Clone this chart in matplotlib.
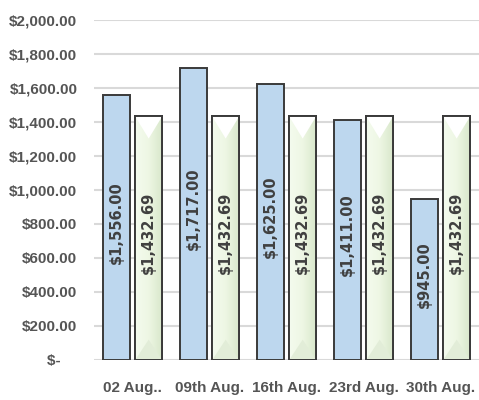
import matplotlib
matplotlib.use("Agg")
import matplotlib.pyplot as plt
import numpy as np
from matplotlib.ticker import FuncFormatter

categories = ["02 Aug..", "09th Aug.", "16th Aug.", "23rd Aug.", "30th Aug."]
actual = [1556.00, 1717.00, 1625.00, 1411.00, 945.00]
budget = [1432.69, 1432.69, 1432.69, 1432.69, 1432.69]

TEXT = "#555555"
BLUE = "#bdd7ee"
GREEN = "#eef7e4"
EDGE = "#3a3a3a"


def money(v, _pos=None):
    if v == 0:
        return "$-    "
    return f"${v:,.2f}"


fig = plt.figure(figsize=(4.79, 4.00), dpi=100)
ax = fig.add_axes([94 / 479, 40 / 400, 385 / 479, 340 / 400])

x = np.arange(len(categories))
w = 0.35
off = 0.21
b1 = ax.bar(x - off, actual, w, color=BLUE, edgecolor=EDGE, linewidth=1.4, zorder=3)
b2 = ax.bar(x + off, budget, w, color=GREEN, edgecolor=EDGE, linewidth=1.4, zorder=3)

# bevel-like shading on the budget bars
gcmap = matplotlib.colors.LinearSegmentedColormap.from_list(
    "g", ["#f4fbee", "#eef7e4", "#d9e8cc"])
grad = np.linspace(0, 1, 64)[None, :]
for r in b2:
    x0, y0, bw, bh = r.get_x(), r.get_y(), r.get_width(), r.get_height()
    im = ax.imshow(grad, extent=(x0, x0 + bw, y0, y0 + bh), aspect="auto",
                   cmap=gcmap, zorder=3.1)
    im.set_clip_path(r)
    top = plt.Polygon([(x0, y0 + bh), (x0 + bw, y0 + bh), (x0 + bw / 2, y0 + bh - 130)],
                      closed=True, facecolor="white", edgecolor="none", zorder=3.2)
    bot = plt.Polygon([(x0, y0), (x0 + bw, y0), (x0 + bw / 2, y0 + 120)],
                      closed=True, facecolor="#e2edd8", edgecolor="none", zorder=3.2)
    for p in (top, bot):
        p.set_clip_path(r)
        ax.add_patch(p)
    ax.add_patch(plt.Rectangle((x0, y0), bw, bh, fill=False, edgecolor=EDGE,
                               linewidth=1.4, zorder=3.3))

for bars, vals in ((b1, actual), (b2, budget)):
    for r, v in zip(bars, vals):
        ax.text(r.get_x() + r.get_width() / 2, v / 2 + 30, money(v), rotation=90,
                ha="center", va="center", fontsize=10.5, fontweight="bold",
                color="#404040", family="DejaVu Sans", zorder=4)

ax.set_ylim(0, 2000)
ax.set_xlim(-0.5, len(categories) - 0.5)
ax.set_yticks(np.arange(0, 2001, 200))
ax.yaxis.set_major_formatter(FuncFormatter(money))
ax.set_xticks(x)
ax.set_xticklabels(categories)
ax.grid(True, axis="y", color="#d9d9d9", linewidth=1.5, zorder=0)
ax.set_axisbelow(True)
for s in ax.spines.values():
    s.set_visible(False)
ax.tick_params(length=0)
ax.tick_params(axis="y", pad=12)
ax.tick_params(axis="x", pad=15)
for lab in ax.get_yticklabels():
    lab.set_fontfamily("Liberation Sans")
    lab.set_fontweight("bold")
    lab.set_fontsize(11)
    lab.set_color(TEXT)
for lab in ax.get_xticklabels():
    lab.set_fontfamily("Liberation Sans")
    lab.set_fontweight("bold")
    lab.set_fontsize(11)
    lab.set_color(TEXT)

fig.savefig("out.png", dpi=100)
